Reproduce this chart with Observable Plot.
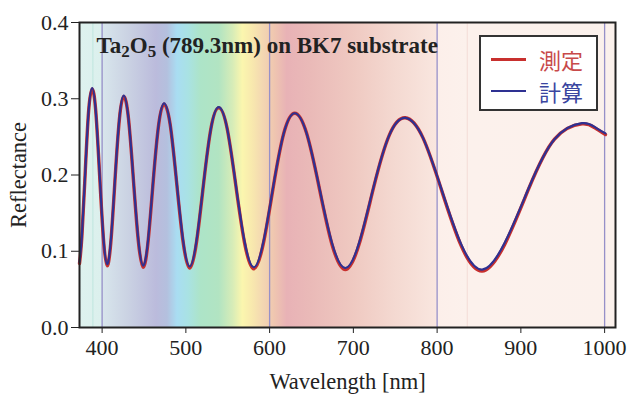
<!DOCTYPE html>
<html>
<head>
<meta charset="utf-8">
<script src="https://cdn.jsdelivr.net/npm/d3@7"></script>
<script src="https://cdn.jsdelivr.net/npm/@observablehq/plot@0.6"></script>
<style>
  html, body { margin: 0; padding: 0; background: #fff; }
  #wrap { position: relative; width: 629px; height: 394px; overflow: hidden; }
  #wrap svg, #wrap svg g, #wrap svg text { font-family: "Liberation Serif", "Times New Roman", serif !important; }
  #legend { position: absolute; left: 479px; top: 35px; width: 115px; height: 72px;
    border: 2px solid #333; background: #fff; font-family: "Noto Sans CJK JP", sans-serif; font-size: 22px; }
  .row { position: absolute; left: 10px; height: 26px; display: flex; align-items: center; }
  .sw { width: 35px; height: 3px; margin-right: 13px; }
</style>
</head>
<body>
<div id="wrap"></div>
<script>
// Data
const wavelengths = [373, 375.9, 379.9, 383.9, 388.1, 392.4, 396.8, 401.4, 406, 410.8, 415.7, 420.7, 425.8, 431.4, 437.1, 443.0, 449, 455.0, 461.1, 467.5, 474, 481.3, 488.8, 496.6, 504.6, 512.8, 521.3, 530.1, 539.2, 549.1, 559.3, 569.9, 581, 592.5, 604.5, 617.0, 630, 644.1, 658.9, 674.3, 690.5, 707.1, 724.5, 742.8, 762, 783.0, 805.2, 828.8, 853.7, 880.7, 909.4, 940.2, 973, 988, 1001];
const calculated = [0.086, 0.121, 0.205, 0.284, 0.314, 0.284, 0.205, 0.121, 0.083, 0.119, 0.200, 0.275, 0.304, 0.275, 0.199, 0.118, 0.081, 0.116, 0.194, 0.266, 0.294, 0.266, 0.193, 0.115, 0.080, 0.1145, 0.191, 0.262, 0.289, 0.262, 0.190, 0.114, 0.079, 0.112, 0.186, 0.255, 0.281, 0.255, 0.186, 0.1115, 0.078, 0.112, 0.186, 0.252, 0.275, 0.249, 0.1815, 0.109, 0.076, 0.111, 0.183, 0.247, 0.268, 0.263, 0.2546];
const measured = [0.084, 0.120, 0.205, 0.284, 0.313, 0.284, 0.204, 0.119, 0.081, 0.117, 0.199, 0.274, 0.303, 0.275, 0.198, 0.116, 0.079, 0.114, 0.193, 0.266, 0.293, 0.266, 0.192, 0.113, 0.078, 0.1125, 0.190, 0.262, 0.288, 0.262, 0.189, 0.112, 0.077, 0.110, 0.185, 0.255, 0.281, 0.255, 0.185, 0.1095, 0.076, 0.110, 0.185, 0.252, 0.275, 0.249, 0.1805, 0.107, 0.074, 0.109, 0.182, 0.247, 0.267, 0.262, 0.253];
const seriesNames = ["測定", "計算"];
const seriesColors = ["#c8302e", "#2e3192"];
const xTicks = [400, 500, 600, 700, 800, 900, 1000];
const yTicks = [0, 0.1, 0.2, 0.3, 0.4];
const xDomain = [373, 1013];
const yDomain = [0, 0.4];
const guideLines = [400, 600, 800, 1000];
const faintLines = [389, 836];
const faintColors = ["#bfe6de", "#f3dcd6"];
const stopWavelengths = [373, 399.5, 400.5, 430, 465, 478, 490, 503, 518, 540, 556, 568, 580, 593, 606, 621, 650, 700, 750, 799.5, 800.5, 836, 1013];
const stopColors = ["#def2ee", "#dcf0ed", "#d8e6ec", "#cbd3e3", "#bbbbdc", "#b4c0de", "#a9ddf2", "#a9e2e4", "#ade4c8", "#b2e4c2", "#d6ecb8", "#fbf6ae", "#f8e8ae", "#f3d6b2", "#efc6b0", "#e8b2b6", "#eabab8", "#efc9c1", "#f4d9d1", "#f9e6df", "#fcefea", "#fcf1ec", "#fbf1ec"];
const titleParts = [["Ta", false], ["2", true], ["O", false], ["5", true], [" (789.3nm) on BK7 substrate", false]];
const titleText = titleParts.map(p => p[0]).join("");
const xLabel = "Wavelength [nm]";
const yLabel = "Reflectance";

const rows = wavelengths.map((w, i) => ({w, m: measured[i], c: calculated[i]}));
const faint = faintLines.map((w, i) => ({w, color: faintColors[i]}));

const plot = Plot.plot({
  width: 629,
  height: 394,
  marginLeft: 79,
  marginRight: 14,
  marginTop: 22,
  marginBottom: 67,
  style: {fontFamily: "'Liberation Serif', 'Times New Roman', serif", fontSize: "22px", color: "#222", background: "transparent"},
  x: {domain: xDomain, ticks: xTicks, tickSize: 6, tickPadding: 6, label: null, tickFormat: d3.format("d")},
  y: {domain: yDomain, ticks: yTicks, tickSize: 8, tickPadding: 3, label: null, tickFormat: d3.format(".1f")},
  marks: [
    Plot.rect([0], {x1: xDomain[0], x2: xDomain[1], y1: yDomain[0], y2: yDomain[1], fill: "url(#spectrum)"}),
    Plot.ruleX(faint, {x: "w", stroke: "color", strokeWidth: 1}),
    Plot.ruleX(guideLines, {stroke: "#9690c8", strokeWidth: 1.3}),
    Plot.line(rows, {x: "w", y: "m", stroke: seriesColors[0], strokeWidth: 3.4, curve: "natural"}),
    Plot.line(rows, {x: "w", y: "c", stroke: seriesColors[1], strokeWidth: 2.2, curve: "natural"}),
    Plot.frame({stroke: "#222", strokeWidth: 2}),
    Plot.text([titleText], {frameAnchor: "top-left", dx: 17, dy: 23.3, text: d => d, textAnchor: "start", lineAnchor: "middle", fontWeight: "bold", fontSize: 23, fill: "#222"}),
    Plot.text([xLabel], {frameAnchor: "bottom", dy: 54, text: d => d, textAnchor: "middle", lineAnchor: "middle", fontSize: 22.5, fill: "#222"}),
    Plot.text([yLabel], {frameAnchor: "left", dx: -61, rotate: -90, text: d => d, textAnchor: "middle", lineAnchor: "middle", fontSize: 22.5, fill: "#222"})
  ]
});

// gradient positioned through the x scale
const xs = plot.scale("x");
const ns = "http://www.w3.org/2000/svg";
const defs = document.createElementNS(ns, "defs");
const grad = document.createElementNS(ns, "linearGradient");
grad.setAttribute("id", "spectrum");
grad.setAttribute("gradientUnits", "userSpaceOnUse");
const gx1 = xs.apply(xDomain[0]), gx2 = xs.apply(xDomain[1]);
grad.setAttribute("x1", gx1); grad.setAttribute("x2", gx2);
grad.setAttribute("y1", 0); grad.setAttribute("y2", 0);
stopWavelengths.forEach((w, i) => {
  const s = document.createElementNS(ns, "stop");
  s.setAttribute("offset", (xs.apply(w) - gx1) / (gx2 - gx1));
  s.setAttribute("stop-color", stopColors[i]);
  grad.appendChild(s);
});
defs.appendChild(grad);
plot.insertBefore(defs, plot.firstChild);

// subscripts in the title
plot.querySelectorAll("text").forEach(t => {
  if (t.textContent === titleText) {
    t.textContent = "";
    let shifted = false;
    titleParts.forEach(([s, sub]) => {
      const ts = document.createElementNS(ns, "tspan");
      ts.textContent = s;
      if (sub) { ts.setAttribute("font-size", "17"); ts.setAttribute("dy", "4"); shifted = true; }
      else if (shifted) { ts.setAttribute("dy", "-4"); shifted = false; }
      t.appendChild(ts);
    });
  }
});

const wrap = document.getElementById("wrap");
wrap.appendChild(plot);

const legend = document.createElement("div");
legend.id = "legend";
seriesNames.forEach((name, i) => {
  const row = document.createElement("div");
  row.className = "row";
  row.style.top = (i === 0 ? 9 : 41) + "px";
  const sw = document.createElement("div");
  sw.className = "sw";
  sw.style.background = seriesColors[i];
  sw.style.height = i === 0 ? "3px" : "2px";
  const t = document.createElement("span");
  t.textContent = name;
  t.style.color = i === 0 ? "#c84a4a" : "#3a45a0";
  row.appendChild(sw); row.appendChild(t);
  legend.appendChild(row);
});
wrap.appendChild(legend);
</script>
</body>
</html>
